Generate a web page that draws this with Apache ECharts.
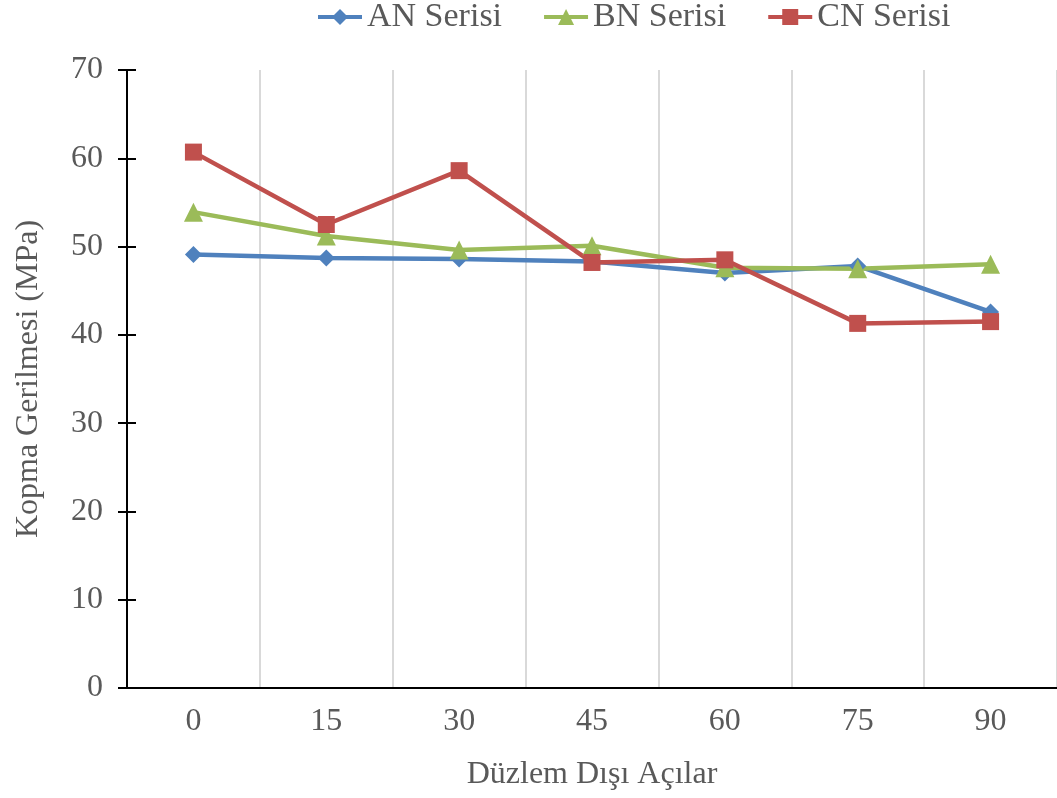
<!DOCTYPE html>
<html>
<head>
<meta charset="utf-8">
<script src="https://cdn.jsdelivr.net/npm/echarts@6/dist/echarts.min.js"></script>
<style>
  html, body { margin: 0; padding: 0; background: #ffffff; }
  #chart { width: 1057px; height: 798px; }
</style>
</head>
<body>
<div id="chart"></div>
<script>
// Out-of-plane angles (degrees)
const angles = ['0', '15', '30', '45', '60', '75', '90'];
// Tensile strength (MPa) per series
const anSeries = [49.1, 48.7, 48.6, 48.3, 47.0, 47.8, 42.6];
const bnSeries = [53.9, 51.2, 49.6, 50.1, 47.6, 47.5, 48.0];
const cnSeries = [60.7, 52.5, 58.6, 48.2, 48.5, 41.3, 41.5];
const seriesNames = ['AN Serisi', 'BN Serisi', 'CN Serisi'];
const yMin = 0, yMax = 70, yStep = 10;

const font = 'Liberation Serif, Times New Roman, serif';
const textColor = '#595959';

const chart = echarts.init(document.getElementById('chart'), null, { renderer: 'canvas' });

function lineSeries(name, data, color, symbol, size) {
  return {
    name: name,
    type: 'line',
    data: data,
    yAxisIndex: 0,
    symbol: symbol,
    symbolSize: size,
    itemStyle: { color: color },
    lineStyle: { color: color, width: 4.5 },
    emphasis: { disabled: true },
    animation: false
  };
}

chart.setOption({
  backgroundColor: '#ffffff',
  animation: false,
  textStyle: { fontFamily: font },
  legend: {
    top: -5,
    left: 311,
    itemWidth: 44,
    itemHeight: 20,
    itemGap: 40,
    lineStyle: { width: 4 },
    textStyle: { fontFamily: font, fontSize: 34, color: textColor },
    data: seriesNames
  },
  grid: { left: 127, right: 0, top: 70, bottom: 110, containLabel: false },
  xAxis: {
    type: 'category',
    data: angles,
    boundaryGap: true,
    name: 'Düzlem Dışı Açılar',
    nameLocation: 'middle',
    nameGap: 71,
    nameTextStyle: { fontFamily: font, fontSize: 32, color: textColor },
    axisLine: { lineStyle: { color: '#000000', width: 2 } },
    axisTick: { show: false },
    axisLabel: { fontFamily: font, fontSize: 32, color: textColor, margin: 18 },
    splitLine: { show: true, lineStyle: { color: '#d9d9d9', width: 2 } }
  },
  yAxis: [
    {
      type: 'value',
      min: yMin, max: yMax, interval: yStep,
      name: 'Kopma Gerilmesi (MPa)',
      nameLocation: 'middle',
      nameGap: 82,
      nameTextStyle: { fontFamily: font, fontSize: 32, color: textColor },
      axisLine: { show: true, lineStyle: { color: '#000000', width: 2 } },
      axisTick: { show: true, length: 9, lineStyle: { color: '#000000', width: 2 } },
      axisLabel: { fontFamily: font, fontSize: 32, color: textColor, margin: 24 },
      splitLine: { show: false }
    },
    {
      // inner half of the cross ticks on the value axis
      type: 'value',
      position: 'left',
      min: yMin, max: yMax, interval: yStep,
      axisLine: { show: false },
      axisTick: { show: true, inside: true, length: 9, lineStyle: { color: '#000000', width: 2 } },
      axisLabel: { show: false },
      splitLine: { show: false }
    }
  ],
  series: [
    lineSeries(seriesNames[0], anSeries, '#4f81bd', 'diamond', 17),
    lineSeries(seriesNames[1], bnSeries, '#9bbb59', 'triangle', 19),
    lineSeries(seriesNames[2], cnSeries, '#c0504d', 'rect', 17)
  ]
});
</script>
</body>
</html>
